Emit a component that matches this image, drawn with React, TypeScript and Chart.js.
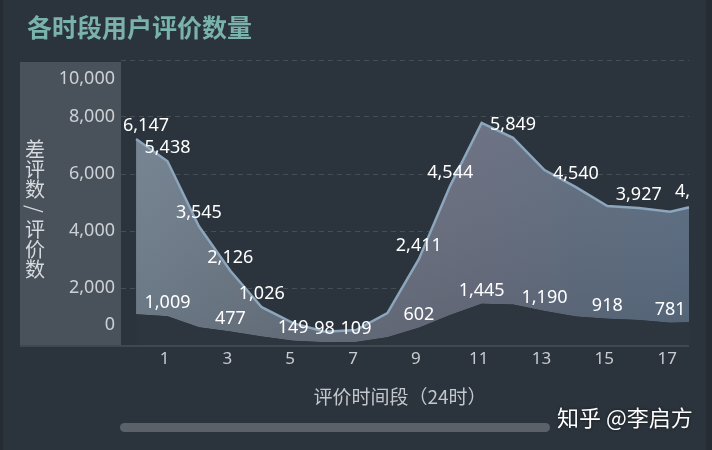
import React, { useEffect, useRef } from 'react';
import { Chart, registerables } from 'chart.js';

Chart.register(...registerables);

// ---- data ----
const hours = [0, 1, 2, 3, 4, 5, 6, 7, 8, 9, 10, 11, 12, 13, 14, 15, 16, 17, 18];
const negativeReviews = [1080, 1009, 620, 477, 300, 149, 98, 109, 270, 602, 1050, 1445, 1420, 1190, 1000, 918, 877, 781, 810];
const otherReviews = [6147, 5438, 3545, 2126, 1026, 620, 370, 417, 850, 2411, 4544, 6350, 5849, 4950, 4540, 3960, 3927, 3896, 4120];
const upperLabelHours = [0, 1, 2, 3, 4, 9, 10, 12, 14, 16, 18];
const lowerLabelHours = [1, 3, 5, 6, 7, 9, 11, 13, 15, 17];
const xTickValues = [1, 3, 5, 7, 9, 11, 13, 15, 17];
const yTickValues = [0, 2000, 4000, 6000, 8000, 10000];
const titleText = '各时段用户评价数量';
const yTitleText = '差评数/评价数';
const xTitleText = '评价时间段（24时）';
const watermarkText = '知乎 @李启方';

const NUM_FONT = '"Segoe UI", "Noto Sans", "Noto Sans CJK SC", sans-serif';
const CJK_FONT = '"Microsoft YaHei", "Noto Sans CJK SC", sans-serif';
const BG = '#2b333c';

const fmt = (v: number) => v.toLocaleString('en-US');

function makeAreaPattern(chart: any) {
  const a = chart.chartArea;
  const off = document.createElement('canvas');
  off.width = chart.width;
  off.height = chart.height;
  const c = off.getContext('2d') as CanvasRenderingContext2D;
  const hg = c.createLinearGradient(a.left, 0, a.right, 0);
  hg.addColorStop(0, '#71808f');
  hg.addColorStop(0.3, '#6a7481');
  hg.addColorStop(0.6, '#676c7d');
  hg.addColorStop(0.8, '#5e6b7e');
  hg.addColorStop(1, '#5a6b80');
  c.fillStyle = hg;
  c.fillRect(0, 0, off.width, off.height);
  const vg = c.createLinearGradient(0, a.top + 60, 0, a.bottom);
  vg.addColorStop(0, 'rgba(255,255,255,0.05)');
  vg.addColorStop(1, 'rgba(0,0,0,0.08)');
  c.fillStyle = vg;
  c.fillRect(0, 0, off.width, off.height);
  return chart.ctx.createPattern(off, 'no-repeat');
}

const backgroundPlugin = {
  id: 'bgDecor',
  beforeDraw(chart: any) {
    const { ctx, width, height } = chart;
    const a = chart.chartArea;
    ctx.save();
    ctx.fillStyle = BG;
    ctx.fillRect(0, 0, width, height);
    // thin edge strips
    ctx.fillStyle = '#252c34';
    ctx.fillRect(0, 0, 3, height);
    ctx.fillRect(706, 0, 6, height);
    // title
    ctx.fillStyle = '#7ab3ab';
    ctx.font = `bold 25px ${CJK_FONT}`;
    ctx.textAlign = 'left';
    ctx.textBaseline = 'middle';
    ctx.fillText(titleText, 27, 27);
    // y panel
    ctx.fillStyle = '#49515a';
    ctx.fillRect(20, a.top + 2, a.left - 20, a.bottom - a.top - 2);
    // axis line
    ctx.fillStyle = '#3f4750';
    ctx.fillRect(20, a.bottom, a.right - 20, 2);
    ctx.restore();
  },
  afterDraw(chart: any) {
    const { ctx } = chart;
    const a = chart.chartArea;
    const xs = chart.scales.x;
    const ys = chart.scales.y;
    ctx.save();

    // data labels
    ctx.save();
    ctx.beginPath();
    ctx.rect(a.left, 0, a.right - a.left + 2, a.bottom);
    ctx.clip();
    ctx.font = `18px ${NUM_FONT}`;
    ctx.fillStyle = '#ffffff';
    ctx.textBaseline = 'middle';
    ctx.textAlign = 'center';
    const drawLabels = (dsIndex: number, idxs: number[], values: number[]) => {
      const meta = chart.getDatasetMeta(dsIndex);
      idxs.forEach((i) => {
        const p = meta.data[i];
        if (!p) return;
        const txt = fmt(values[i]);
        const w = ctx.measureText(txt).width;
        let cx = p.x;
        if (cx - w / 2 < a.left + 2) cx = a.left + 2 + w / 2;
        if (cx - w / 2 > a.right - 14) cx = a.right - 14 + w / 2;
        ctx.fillText(txt, cx, p.y - 13);
      });
    };
    drawLabels(1, upperLabelHours, otherReviews);
    drawLabels(0, lowerLabelHours, negativeReviews);
    ctx.restore();

    // y tick labels
    ctx.font = `18px ${NUM_FONT}`;
    ctx.fillStyle = '#cdd1d5';
    ctx.textAlign = 'right';
    ctx.textBaseline = 'middle';
    yTickValues.forEach((v) => {
      let y = ys.getPixelForValue(v);
      y = Math.max(a.top + 19, Math.min(a.bottom - 20, y));
      ctx.fillText(fmt(v), 115, y);
    });

    // y title (vertical)
    ctx.font = `20px ${CJK_FONT}`;
    ctx.fillStyle = '#d6dade';
    ctx.textAlign = 'center';
    Array.from(yTitleText).forEach((ch, i) => {
      const y = 149 + i * 20;
      if (ch === '/') {
        ctx.save();
        ctx.translate(35, y);
        ctx.rotate(Math.PI / 2);
        ctx.fillText(ch, 0, 0);
        ctx.restore();
      } else {
        ctx.fillText(ch, 35, y);
      }
    });

    // x tick labels
    ctx.font = `17px ${NUM_FONT}`;
    ctx.fillStyle = '#c8ccd0';
    ctx.textAlign = 'center';
    xTickValues.forEach((v) => {
      ctx.fillText(String(v), xs.getPixelForValue(v) - 3, a.bottom + 14);
    });

    // x title
    ctx.font = `19px ${CJK_FONT}`;
    ctx.fillStyle = '#c3c7cb';
    ctx.fillText(xTitleText, 400, 397);

    // scrollbar
    ctx.fillStyle = '#5a6168';
    ctx.beginPath();
    ctx.roundRect(120, 423, 430, 9, 4.5);
    ctx.fill();

    // watermark
    ctx.font = `22px ${CJK_FONT}`;
    ctx.textAlign = 'left';
    ctx.shadowColor = 'rgba(0,0,0,0.6)';
    ctx.shadowBlur = 3;
    ctx.fillStyle = '#ffffff';
    ctx.fillText(watermarkText, 557, 418);
    ctx.restore();
  },
};

export default function App() {
  const ref = useRef<HTMLCanvasElement | null>(null);
  useEffect(() => {
    document.body.style.margin = '0';
    document.body.style.background = BG;
    const canvas = ref.current;
    if (!canvas) return;
    let pattern: any = null;
    const chart = new Chart(canvas, {
      type: 'line',
      data: {
        datasets: [
          {
            label: '差评数',
            data: hours.map((h, i) => ({ x: h, y: negativeReviews[i] })),
            borderColor: 'rgba(0,0,0,0)',
            borderWidth: 0,
            backgroundColor: '#2d353f',
            fill: 'origin',
            pointRadius: 0,
            tension: 0,
          },
          {
            label: '评价数',
            data: hours.map((h, i) => ({ x: h, y: otherReviews[i] })),
            borderColor: '#8ca6bd',
            borderWidth: 2.5,
            backgroundColor: (ctx: any) => {
              const c = ctx.chart;
              if (!c.chartArea) return '#65707f';
              if (!pattern) pattern = makeAreaPattern(c);
              return pattern;
            },
            fill: '-1',
            pointRadius: 0,
            tension: 0,
          },
        ],
      },
      options: {
        responsive: false,
        animation: false,
        events: [],
        layout: { padding: { left: 121, right: 23, top: 60, bottom: 105 } },
        plugins: { legend: { display: false }, tooltip: { enabled: false }, title: { display: false } },
        scales: {
          x: {
            type: 'linear',
            display: false,
            min: -0.48,
            max: 17.6,
            afterBuildTicks: (s: any) => {
              s.ticks = xTickValues.map((v) => ({ value: v }));
            },
          },
          y: {
            stacked: true,
            min: 0,
            max: 10000,
            z: 1,
            afterBuildTicks: (s: any) => {
              s.ticks = yTickValues.map((v) => ({ value: v }));
            },
            ticks: { display: false },
            border: { display: false, dash: [5, 4] },
            grid: {
              drawTicks: false,
              color: (c: any) => (c.tick && c.tick.value === 0 ? 'rgba(0,0,0,0)' : 'rgba(255,255,255,0.13)'),
              lineWidth: 1,
            },
          },
        },
      },
      plugins: [backgroundPlugin],
    } as any);
    return () => chart.destroy();
  }, []);
  return (
    <div style={{ width: 712, height: 450, background: BG }}>
      <canvas ref={ref} width={712} height={450} style={{ display: 'block' }} />
    </div>
  );
}
